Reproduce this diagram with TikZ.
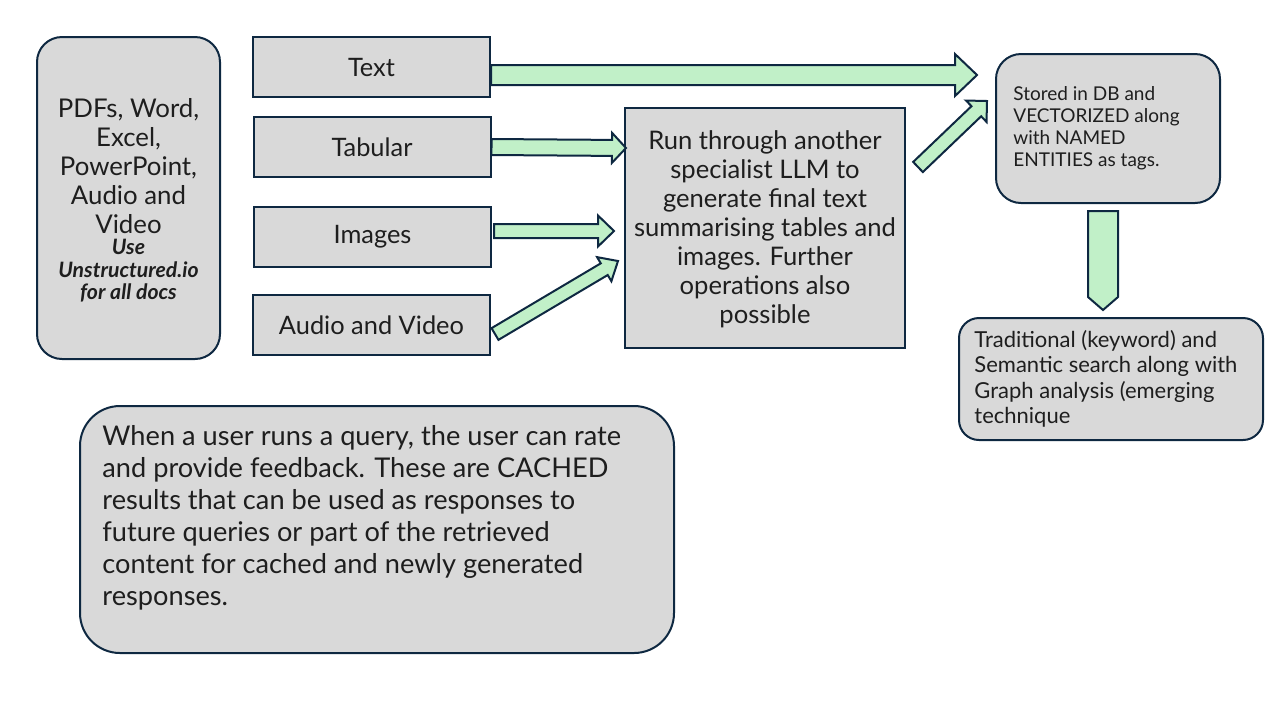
\documentclass[tikz,border=0pt]{standalone}
\usepackage{fontspec}
\setmainfont{Lato}
\usepackage{tikz}
\usetikzlibrary{calc,positioning}
\definecolor{boxgrey}{RGB}{217,217,217}
\definecolor{edgenavy}{RGB}{14,40,65}
\definecolor{arrowgreen}{RGB}{193,240,200}
\definecolor{inktext}{RGB}{30,30,30}

% block arrow: tail, tip, shaft half width, head half width, head length
\newcommand{\blockarrow}[5]{%
  \coordinate (ahead) at ($(#2)!#5!(#1)$);
  \draw[flow] ($(#1)!#3!90:(#2)$) -- ($(ahead)!#3!-90:(#1)$) -- ($(ahead)!#4!-90:(#1)$) -- (#2)
    -- ($(ahead)!#4!90:(#1)$) -- ($(ahead)!#3!90:(#1)$) -- ($(#1)!#3!-90:(#2)$) -- cycle;
}

\begin{document}
\begin{tikzpicture}[x=0.5pt, y=-0.5pt,
    box/.style={draw=edgenavy, line width=1pt, fill=boxgrey, inner sep=0pt},
    roundbox/.style={box, rounded corners=#1}, roundbox/.default=12pt,
    flow/.style={draw=edgenavy, line width=1pt, fill=arrowgreen, line join=miter},
    label/.style={text=inktext, inner sep=0pt},
    typebox/.style={box, minimum width=118.5pt, minimum height=30pt, text=inktext,
        font=\fontsize{12.7pt}{15pt}\selectfont}]
    \useasboundingbox (0,0) rectangle (1280,720);

    % source documents
    \node[roundbox=12.5pt, minimum width=91.5pt, minimum height=161pt] (src) at (128.5,198) {};
    \node[label, align=center, font=\fontsize{12.9pt}{14.4pt}\selectfont] (srcmain) at (128.5,166)
        {PDFs, Word,\\Excel,\\PowerPoint,\\Audio and\\Video};
    \node[label, align=center, font=\fontsize{10.6pt}{11.25pt}\selectfont\bfseries\itshape] (srcnote) at (128.5,271)
        {Use\\Unstructured.io\\for all docs};

    % content types
    \node[typebox] (txt) at (371.5,67) {Text};
    \node[typebox] (tab) at (372,147) {Tabular};
    \node[typebox] (img) at (372.5,237) {Images};
    \node[typebox] (aud) at (371.5,325) {Audio and Video};

    % specialist LLM
    \node[box, minimum width=140pt, minimum height=120pt] (llm) at (765,228) {};
    \node[label, align=center, font=\fontsize{12.8pt}{14.5pt}\selectfont] (llmtext) at ($(llm)+(0,1)$)
        {Run through another\\specialist LLM to\\generate final text\\summarising tables and\\images. Further\\operations also\\possible};

    % storage and search
    \node[roundbox=12.5pt, minimum width=112pt, minimum height=74.5pt] (stored) at (1108,128.5) {};
    \node[label, align=left, anchor=west, font=\fontsize{9.5pt}{11pt}\selectfont] (storedtext)
        at ($(stored.west)+(18,0)$) {Stored in DB and\\VECTORIZED along\\with NAMED\\ENTITIES as tags.};
    \node[roundbox=10pt, minimum width=152pt, minimum height=61pt] (search) at (1111,379) {};
    \node[label, align=left, anchor=west, font=\fontsize{11pt}{12.75pt}\selectfont] (searchtext)
        at ($(search.west)+(16,0)$) {Traditional (keyword) and\\Semantic search along with\\Graph analysis (emerging\\technique};

    % feedback note
    \node[roundbox=20pt, minimum width=297pt, minimum height=123.5pt] (fb) at (377,529.5) {};
    \node[label, align=left, anchor=north west, font=\fontsize{13.6pt}{16pt}\selectfont] (fbtext)
        at ($(fb.north west)+(23,20)$) {When a user runs a query, the user can rate\\and provide feedback. These are CACHED\\results that can be used as responses to\\future queries or part of the retrieved\\content for cached and newly generated\\responses.};

    % arrow ends
    \coordinate (txttail) at ($(txt.east)+(0,8)$);
    \coordinate (txttip) at (977,75);
    \coordinate (tabtip) at (626,148);
    \coordinate (imgtail) at ($(img.east)+(2,-6)$);
    \coordinate (imgtip) at (614,231);
    \coordinate (audtail) at (495,334);
    \coordinate (audtip) at (618,261);
    \coordinate (llmtail) at (918,167);
    \coordinate (llmtip) at (987,101);
    \coordinate (storedtail) at ($(stored.south)+(-5,7)$);
    \coordinate (storedtip) at (1103,310);

    \blockarrow{txttail}{txttip}{5pt}{10.5pt}{11pt}
    \blockarrow{tab.east}{tabtip}{4pt}{7.5pt}{7pt}
    \blockarrow{imgtail}{imgtip}{3.5pt}{7.75pt}{8pt}
    \blockarrow{audtail}{audtip}{3.4pt}{7pt}{8pt}
    \blockarrow{llmtail}{llmtip}{3.5pt}{7.4pt}{7.4pt}
    \blockarrow{storedtail}{storedtip}{7.5pt}{7.5pt}{6.5pt}
\end{tikzpicture}
\end{document}
